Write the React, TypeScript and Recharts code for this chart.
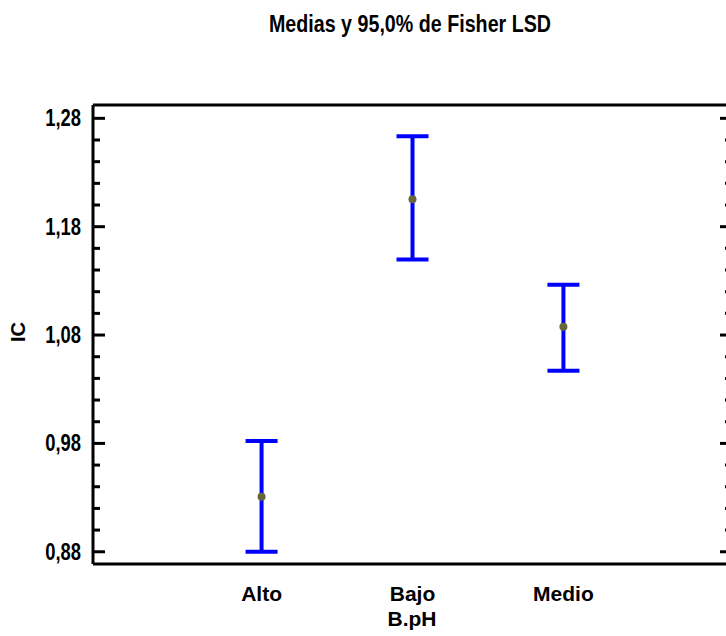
import { ComposedChart, Scatter, ErrorBar, XAxis, YAxis, Customized } from 'recharts';

const groups = ['Alto', 'Bajo', 'Medio'];
const means = [0.9307, 1.2054, 1.0876];
const lower = [0.88, 1.1497, 1.047];
const upper = [0.9821, 1.2635, 1.1263];

const yTicks = [
  0.88, 0.9, 0.92, 0.94, 0.96, 0.98, 1.0, 1.02, 1.04, 1.06, 1.08,
  1.1, 1.12, 1.14, 1.16, 1.18, 1.2, 1.22, 1.24, 1.26, 1.28,
];
const majorTicks = ['0,88', '0,98', '1,08', '1,18', '1,28'];

const FONT = "'Liberation Sans', Arial, sans-serif";

const data = groups.map((g, i) => ({
  x: i + 1,
  name: g,
  mean: means[i],
  err: [means[i] - lower[i], upper[i] - means[i]],
}));

const fmt = (v: number) => v.toFixed(2).replace('.', ',');

function LeftTick(props: any) {
  const { x, y, payload } = props;
  const label = fmt(payload.value);
  const major = majorTicks.includes(label);
  return (
    <g>
      <line x1={x} x2={x + (major ? 12 : 7)} y1={y} y2={y} stroke="#000" strokeWidth={3} />
      {major && (
        <text
          transform={`translate(${x - 12} ${y + 8}) scale(0.8 1)`}
          textAnchor="end"
          fontFamily={FONT}
          fontWeight="bold"
          fontSize={23}
          fill="#000"
        >
          {label}
        </text>
      )}
    </g>
  );
}

function RightTick(props: any) {
  const { x, y, payload } = props;
  const major = majorTicks.includes(fmt(payload.value));
  return <line x1={x} x2={x - (major ? 12 : 7)} y1={y} y2={y} stroke="#000" strokeWidth={3} />;
}

function XTick(props: any) {
  const { x, y, payload } = props;
  const name = groups[Math.round(payload.value) - 1] ?? '';
  return (
    <text x={x} y={y + 35} textAnchor="middle" fontFamily={FONT} fontWeight="bold" fontSize={21} fill="#000">
      {name}
    </text>
  );
}

function Texts() {
  return (
    <g fontFamily={FONT} fontWeight="bold" fill="#000">
      <text transform="translate(410 32) scale(0.82 1)" textAnchor="middle" fontSize={24}>
        Medias y 95,0%  de Fisher LSD
      </text>
      <text x={412} y={626} textAnchor="middle" fontSize={21}>
        B.pH
      </text>
      <text x={18} y={332} textAnchor="middle" fontSize={20} transform="rotate(-90 18 332)" dominantBaseline="central">
        IC
      </text>
    </g>
  );
}

function MeanDot(props: any) {
  return <circle cx={props.cx} cy={props.cy} r={4} fill="#66663a" />;
}

export default function App() {
  return (
    <div style={{ position: 'fixed', left: 0, top: 0, width: 726, height: 636, overflow: 'hidden', background: '#fff' }}>
      <ComposedChart width={740} height={636} data={data} margin={{ top: 104, right: 7, left: 0, bottom: 0 }}>
        <XAxis
          dataKey="x"
          type="number"
          domain={[-0.117, 4.117]}
          ticks={[1, 2, 3]}
          allowDataOverflow
          height={72}
          tickSize={0}
          tickLine={false}
          axisLine={{ stroke: '#000', strokeWidth: 3 }}
          tick={<XTick />}
          interval={0}
        />
        <XAxis
          xAxisId="top"
          orientation="top"
          dataKey="x"
          type="number"
          domain={[-0.117, 4.117]}
          allowDataOverflow
          height={1}
          tick={false}
          tickLine={false}
          axisLine={{ stroke: '#000', strokeWidth: 3 }}
        />
        <YAxis
          type="number"
          domain={[0.8687, 1.2923]}
          allowDataOverflow
          ticks={yTicks}
          interval={0}
          width={93}
          tickSize={0}
          tickMargin={0}
          tickLine={false}
          axisLine={{ stroke: '#000', strokeWidth: 3 }}
          tick={<LeftTick />}
        />
        <YAxis
          yAxisId="right"
          orientation="right"
          type="number"
          domain={[0.8687, 1.2923]}
          allowDataOverflow
          ticks={yTicks}
          interval={0}
          width={1}
          tickSize={0}
          tickMargin={0}
          tickLine={false}
          axisLine={{ stroke: '#000', strokeWidth: 3 }}
          tick={<RightTick />}
        />
        <Scatter dataKey="mean" isAnimationActive={false} shape={<MeanDot />}>
          <ErrorBar dataKey="err" direction="y" width={16} stroke="#0000ff" strokeWidth={4} isAnimationActive={false} />
        </Scatter>
        <Customized component={<Texts />} />
      </ComposedChart>
    </div>
  );
}
